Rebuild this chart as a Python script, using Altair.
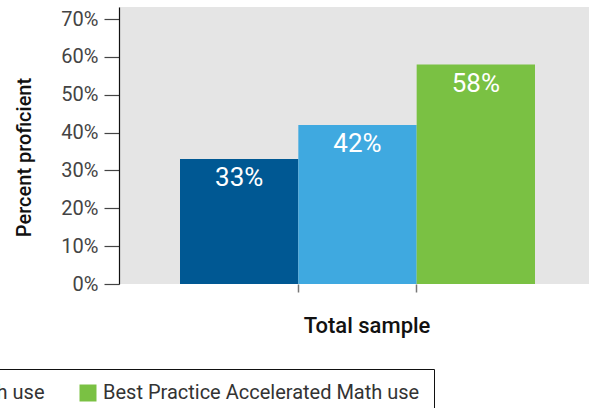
import altair as alt
import pandas as pd

# Proficiency rates by level of Accelerated Math use (total sample)
groups = [
    "No Accelerated Math use",
    "Accelerated Math use",
    "Best Practice Accelerated Math use",
]
proficient = [0.33, 0.42, 0.58]
bar_colors = ["#005893", "#3fa9e0", "#7ac143"]
y_ticks = [0.0, 0.1, 0.2, 0.3, 0.4, 0.5, 0.6, 0.7]
x_title = "Total sample"
y_title = "Percent proficient"

df = pd.DataFrame({"group": groups, "pct": proficient})

FONT = "Roboto"

x_enc = alt.X(
    "group:N",
    sort=groups,
    scale=alt.Scale(range=[61, 416], paddingInner=0, paddingOuter=0),
    axis=alt.Axis(
        values=groups[1:],
        bandPosition=0,
        labels=False,
        domain=False,
        tickSize=8,
        tickColor="#777777",
        tickWidth=1.5,
        title=x_title,
        titleFont=FONT,
        titleFontSize=22,
        titleFontWeight=500,
        titleColor="#111111",
        titleX=247.5,
        titleY=48,
        titleBaseline="alphabetic",
        titleAlign="center",
    ),
)

y_enc = alt.Y(
    "pct:Q",
    scale=alt.Scale(domain=[0, 0.732], nice=False),
    axis=alt.Axis(
        values=y_ticks,
        tickCount=8,
        format=".0%",
        grid=False,
        labelOverlap=False,
        domainColor="#111111",
        domainWidth=1.2,
        tickColor="#444444",
        tickSize=15,
        tickWidth=1.2,
        labelPadding=6,
        labelFont=FONT,
        labelFontSize=20,
        labelColor="#444444",
        title=y_title,
        titleFont=FONT,
        titleFontSize=20,
        titleFontWeight=500,
        titleColor="#111111",
        titleX=-95,
        titleY=150,
        titleAngle=270,
        titleAlign="center",
        titleBaseline="middle",
    ),
)

base = alt.Chart(df).encode(x=x_enc, y=y_enc)

bars = base.mark_bar().encode(
    color=alt.Color(
        "group:N",
        sort=groups,
        scale=alt.Scale(domain=groups, range=bar_colors),
        legend=alt.Legend(
            orient="none",
            legendX=-590,
            legendY=362,
            direction="horizontal",
            title=None,
            symbolType="square",
            symbolSize=289,
            symbolStrokeWidth=0,
            labelFont=FONT,
            labelFontSize=20,
            labelColor="#333333",
            labelOffset=5,
            labelLimit=0,
            columnPadding=33,
            padding=14,
            strokeColor="#111111",
            fillColor="white",
        ),
    ),
)

labels = base.mark_text(
    font=FONT, fontSize=26, color="white", baseline="alphabetic", dy=27
).encode(
    text=alt.Text("pct:Q", format=".0%"),
)

chart = (
    (bars + labels)
    .properties(
        width=470,
        height=277,
        padding={"left": 119, "top": 7, "right": 0, "bottom": 124},
        autosize=alt.AutoSizeParams(type="none"),
    )
    .configure_view(fill="#e5e5e5", strokeWidth=0)
)

chart.save("out.html", embed_options={"renderer": "svg", "actions": False})
